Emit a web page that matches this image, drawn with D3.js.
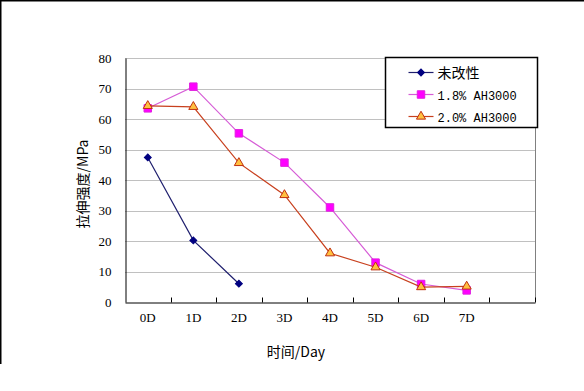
<!DOCTYPE html>
<html>
<head>
<meta charset="utf-8">
<script src="https://cdn.jsdelivr.net/npm/d3@7"></script>
<style>
  body { margin: 0; background: #fff; }
  svg text { fill: #000; }
  .mono { font-family: "Liberation Mono", monospace; }
  .serif { font-family: "Liberation Serif", serif; }
  .cjk { font-family: "Noto Sans CJK SC", sans-serif; }
</style>
</head>
<body>
<svg width="584" height="391"></svg>
<script>
// chart data
var days = ["0D", "1D", "2D", "3D", "4D", "5D", "6D", "7D", ""];
var yTicks = [0, 10, 20, 30, 40, 50, 60, 70, 80];
var seriesNames = ["未改性", "1.8% AH3000", "2.0% AH3000"];
var unmodified = [47.4, 20.2, 6.0];
var ah18 = [63.5, 70.6, 55.3, 45.7, 31.0, 12.9, 5.9, 3.8];
var ah20 = [64.3, 64.0, 45.6, 35.1, 16.0, 11.4, 4.9, 5.1];

var svg = d3.select("svg");

// outer frame (top + left only)
svg.append("line").attr("x1", 0).attr("y1", 0.5).attr("x2", 584).attr("y2", 0.5)
  .attr("stroke", "#000").attr("stroke-width", 2);
svg.append("line").attr("x1", 0.5).attr("y1", 0).attr("x2", 0.5).attr("y2", 364)
  .attr("stroke", "#000").attr("stroke-width", 2);

var margin = { top: 58, left: 125, right: 535, bottom: 302 };

var x = d3.scaleBand().domain(d3.range(days.length)).range([margin.left, margin.right]);
var y = d3.scaleLinear().domain([0, 80]).range([margin.bottom, margin.top]);

// gridlines
svg.append("g").selectAll("line").data(yTicks.filter(function(d) { return d > 0; }))
  .enter().append("line")
  .attr("x1", margin.left).attr("x2", margin.right)
  .attr("y1", function(d) { return Math.round(y(d)) + 0.5; })
  .attr("y2", function(d) { return Math.round(y(d)) + 0.5; })
  .attr("stroke", "#c0c0c0");

// right edge of plot area
svg.append("line").attr("x1", margin.right + 0.5).attr("x2", margin.right + 0.5)
  .attr("y1", margin.top).attr("y2", margin.bottom).attr("stroke", "#808080");

// y axis
var yaxis = d3.axisLeft(y).tickValues(yTicks).tickSize(0).tickPadding(14);
var gy = svg.append("g").attr("transform", "translate(" + (margin.left + 0.5) + ",0)").call(yaxis);
gy.select(".domain").attr("stroke", "#000");
gy.selectAll("text").attr("class", "serif").style("font-size", "13px");

// x axis
var xaxis = d3.axisBottom(x).tickSize(0).tickFormat(function(i) { return days[i]; });
var gx = svg.append("g").attr("transform", "translate(0," + (margin.bottom + 0.5) + ")").call(xaxis);
gx.select(".domain").attr("stroke", "#000");
gx.selectAll("text").attr("class", "serif").style("font-size", "13px").attr("dy", "1.25em");
// inner tick marks at category boundaries
gx.append("g").selectAll("line").data(d3.range(1, days.length + 1)).enter().append("line")
  .attr("x1", function(i) { return Math.round(x(0) + i * x.step()) + 0.5; })
  .attr("x2", function(i) { return Math.round(x(0) + i * x.step()) + 0.5; })
  .attr("y1", 0).attr("y2", -5).attr("stroke", "#000");

// axis titles
svg.append("text").attr("class", "cjk")
  .attr("transform", "translate(88,184) rotate(-90)")
  .attr("text-anchor", "middle").style("font-size", "14px")
  .text("拉伸强度/MPa");
svg.append("text").attr("class", "cjk")
  .attr("x", 296).attr("y", 357)
  .attr("text-anchor", "middle").style("font-size", "14px")
  .text("时间/Day");

var cx = function(d, i) { return x(i) + x.bandwidth() / 2; };
var line = d3.line().x(function(d, i) { return x(i) + x.bandwidth() / 2; }).y(function(d) { return y(d); });

var styles = [
  { data: unmodified, stroke: "#1f1f6e", symbol: d3.symbolSquare, size: 24, rot: 45, fill: "#000080", mstroke: "#000080" },
  { data: ah18, stroke: "#d65cd6", symbol: d3.symbolSquare, size: 56, rot: 0, fill: "#ff00ff", mstroke: "#e020e0" },
  { data: ah20, stroke: "#c8401e", symbol: d3.symbolTriangle, size: 36, rot: 0, fill: "#ffc040", mstroke: "#c03010" }
];

styles.forEach(function(s) {
  svg.append("path").datum(s.data)
    .attr("d", line).attr("fill", "none").attr("stroke", s.stroke).attr("stroke-width", 1.2);
  svg.append("g").selectAll("path").data(s.data).enter().append("path")
    .attr("d", d3.symbol().type(s.symbol).size(s.size))
    .attr("transform", function(d, i) { return "translate(" + cx(d, i) + "," + y(d) + ") rotate(" + s.rot + ")"; })
    .attr("fill", s.fill).attr("stroke", s.mstroke).attr("stroke-width", 1);
});

// legend
var legend = svg.append("g").attr("transform", "translate(385.5,57.5)");
legend.append("rect").attr("width", 152).attr("height", 70)
  .attr("fill", "#fff").attr("stroke", "#000").attr("stroke-width", 1.5);
var rowsY = [15, 37, 59];
styles.forEach(function(s, i) {
  var row = legend.append("g").attr("transform", "translate(0," + rowsY[i] + ")");
  row.append("line").attr("x1", 23).attr("x2", 48).attr("stroke", s.stroke).attr("stroke-width", 1.2);
  row.append("path").attr("d", d3.symbol().type(s.symbol).size(s.size))
    .attr("transform", "translate(35.5,0) rotate(" + s.rot + ")")
    .attr("fill", s.fill).attr("stroke", s.mstroke);
  row.append("text").attr("x", 52).attr("y", 5)
    .attr("class", i === 0 ? "cjk" : "mono")
    .style("font-size", i === 0 ? "14px" : "12px")
    .text(seriesNames[i]);
});
</script>
</body>
</html>
